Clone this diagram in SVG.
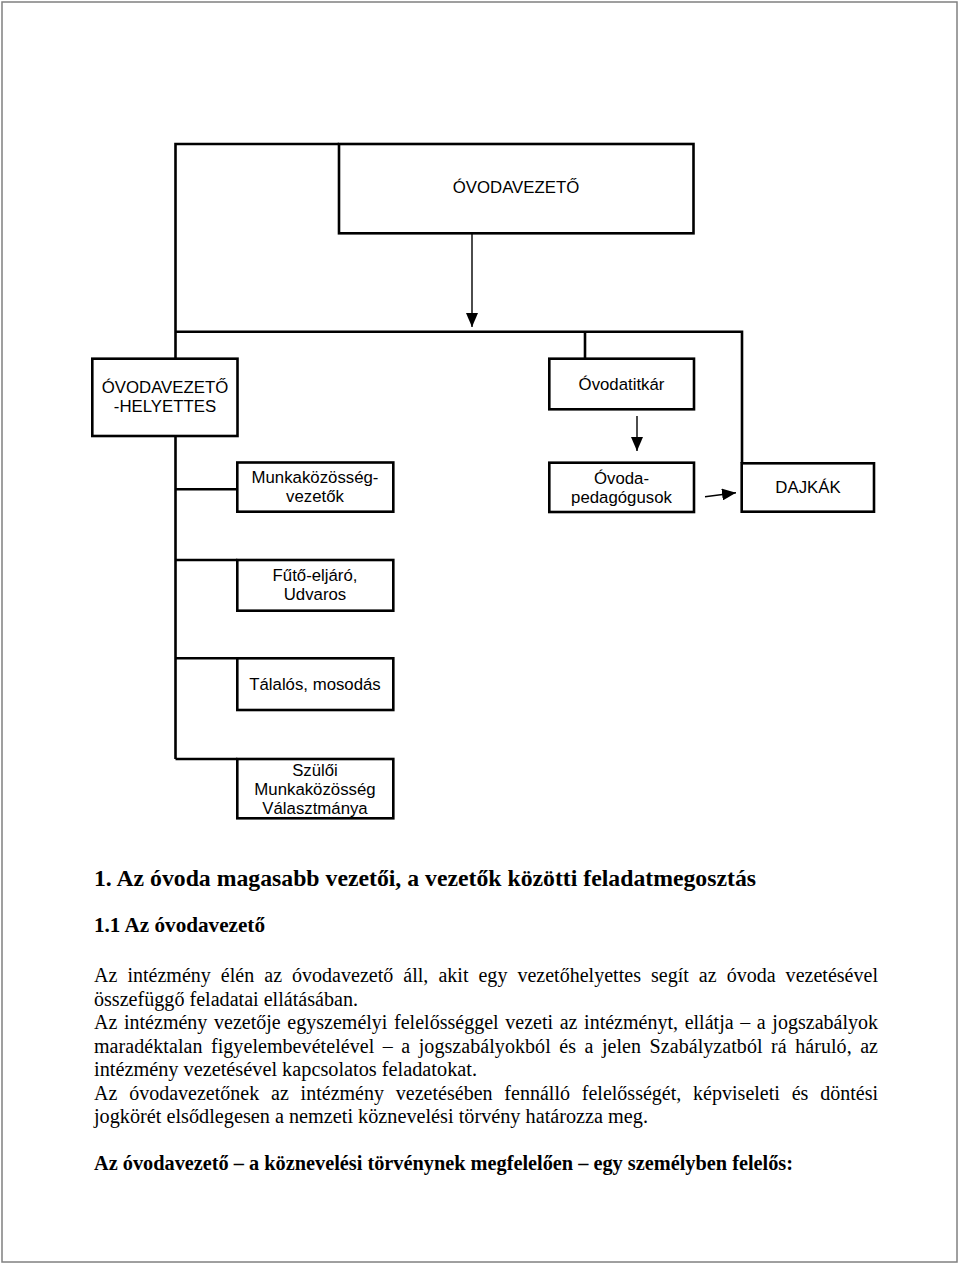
<svg xmlns="http://www.w3.org/2000/svg" width="960" height="1266" viewBox="0 0 960 1266">
<style>
.box{fill:#fff;stroke:#000;stroke-width:2.6}
.conn{fill:none;stroke:#000;stroke-width:2.6}
.arr{fill:none;stroke:#000;stroke-width:1.4}
.lbl{font-family:"Liberation Sans",Arial,sans-serif;font-size:16.8px;fill:#000;text-anchor:middle}
.body{font-family:"Liberation Serif","Times New Roman",serif;font-size:20px;fill:#000}
.b{font-weight:bold}
</style>
<defs>
<marker id="ah" markerUnits="userSpaceOnUse" markerWidth="14" markerHeight="12" refX="14" refY="6" orient="auto">
<path d="M0,0 L14,6 L0,12 z" fill="#000"/>
</marker>
</defs>
<rect x="2" y="2" width="955" height="1260" fill="none" stroke="#808080" stroke-width="1.5"/>
<g id="connectors">
<polyline class="conn" points="175.5,759 175.5,144 339,144"/>
<polyline class="conn" points="175.5,331.7 742,331.7 742,463.3"/>
<line class="conn" x1="585" y1="331.7" x2="585" y2="358.7"/>
<line class="conn" x1="175.5" y1="489.3" x2="237.3" y2="489.3"/>
<line class="conn" x1="175.5" y1="560" x2="237.3" y2="560"/>
<line class="conn" x1="175.5" y1="658.3" x2="237.3" y2="658.3"/>
<line class="conn" x1="175.5" y1="759" x2="237.3" y2="759"/>
<line class="arr" x1="472" y1="233.3" x2="472" y2="327" marker-end="url(#ah)"/>
<line class="arr" x1="637" y1="416" x2="637" y2="451" marker-end="url(#ah)"/>
<line class="arr" x1="705" y1="496.7" x2="736" y2="492.7" marker-end="url(#ah)"/>
</g>
<g id="n-ovodavezeto">
<rect class="box" x="339" y="144" width="354.5" height="89.3"/>
<text class="lbl" x="516" y="193">ÓVODAVEZETŐ</text>
</g>
<g id="n-helyettes">
<rect class="box" x="92.3" y="358.7" width="145.2" height="77.3"/>
<text class="lbl" x="165" y="392.7">ÓVODAVEZETŐ</text>
<text class="lbl" x="165" y="412">-HELYETTES</text>
</g>
<g id="n-titkar">
<rect class="box" x="549.3" y="358.7" width="144.7" height="50.6"/>
<text class="lbl" x="621.5" y="390">Óvodatitkár</text>
</g>
<g id="n-munka">
<rect class="box" x="237.3" y="462.5" width="156" height="49.2"/>
<text class="lbl" x="315" y="482.7">Munkaközösség-</text>
<text class="lbl" x="315" y="502">vezetők</text>
</g>
<g id="n-pedagogusok">
<rect class="box" x="549.3" y="462.7" width="144.7" height="49.3"/>
<text class="lbl" x="621.5" y="484">Óvoda-</text>
<text class="lbl" x="621.5" y="503">pedagógusok</text>
</g>
<g id="n-dajkak">
<rect class="box" x="741.7" y="463.3" width="132.3" height="48.4"/>
<text class="lbl" x="808" y="493">DAJKÁK</text>
</g>
<g id="n-futo">
<rect class="box" x="237.3" y="560" width="156" height="50.7"/>
<text class="lbl" x="315" y="581">Fűtő-eljáró,</text>
<text class="lbl" x="315" y="600">Udvaros</text>
</g>
<g id="n-talalos">
<rect class="box" x="237.3" y="658.3" width="156" height="51.7"/>
<text class="lbl" x="315" y="690">Tálalós, mosodás</text>
</g>
<g id="n-szuloi">
<rect class="box" x="237.3" y="759" width="156" height="59.3"/>
<text class="lbl" x="315" y="776">Szülői</text>
<text class="lbl" x="315" y="795">Munkaközösség</text>
<text class="lbl" x="315" y="814">Választmánya</text>
</g>
<g id="text">
<text class="body b" x="94" y="886" style="font-size:23.5px" textLength="662" lengthAdjust="spacingAndGlyphs">1. Az óvoda magasabb vezetői, a vezetők közötti feladatmegosztás</text>
<text class="body b" x="94" y="932" style="font-size:21px" textLength="171" lengthAdjust="spacingAndGlyphs">1.1 Az óvodavezető</text>
<text class="body" x="94" y="982.2" word-spacing="5" textLength="784" lengthAdjust="spacing">Az intézmény élén az óvodavezető áll, akit egy vezetőhelyettes segít az óvoda vezetésével</text>
<text class="body" x="94" y="1005.7" textLength="264" lengthAdjust="spacingAndGlyphs">összefüggő feladatai ellátásában.</text>
<text class="body" x="94" y="1029.2" word-spacing="1.6" textLength="784" lengthAdjust="spacing">Az intézmény vezetője egyszemélyi felelősséggel vezeti az intézményt, ellátja – a jogszabályok</text>
<text class="body" x="94" y="1052.7" word-spacing="3.4" textLength="784" lengthAdjust="spacing">maradéktalan figyelembevételével – a jogszabályokból és a jelen Szabályzatból rá háruló, az</text>
<text class="body" x="94" y="1076.2" textLength="383" lengthAdjust="spacingAndGlyphs">intézmény vezetésével kapcsolatos feladatokat.</text>
<text class="body" x="94" y="1099.7" word-spacing="6.8" textLength="784" lengthAdjust="spacing">Az óvodavezetőnek az intézmény vezetésében fennálló felelősségét, képviseleti és döntési</text>
<text class="body" x="94" y="1123.2" textLength="554" lengthAdjust="spacingAndGlyphs">jogkörét elsődlegesen a nemzeti köznevelési törvény határozza meg.</text>
<text class="body b" x="94" y="1170" textLength="699" lengthAdjust="spacingAndGlyphs">Az óvodavezető – a köznevelési törvénynek megfelelően – egy személyben felelős:</text>
</g>
</svg>
